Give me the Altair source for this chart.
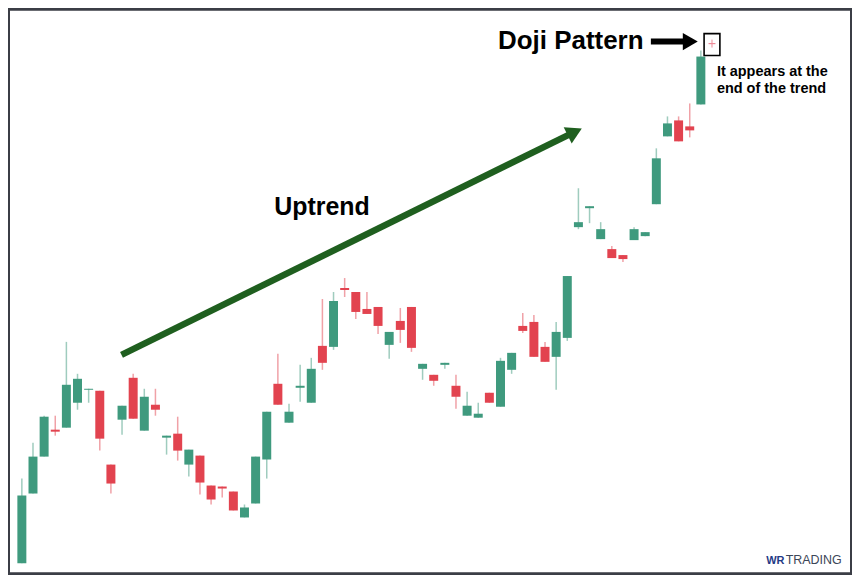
import altair as alt
import pandas as pd

# Candlestick values (price units)
opens = [16, 86, 123, 150, 152, 177, 190, 189, 115, 160, 202, 149, 175, 142, 146, 115,
         124, 94, 93, 88, 62, 76, 120, 196, 157, 192, 177, 234, 233, 292, 288, 271,
         273, 235, 259, 273, 211, 205, 215, 194, 164, 162, 187, 173, 210, 254, 258, 233,
         223, 242, 353, 372, 341, 331, 325, 340, 344, 376, 444, 460, 454, 476, 537]
highs = [101, 137, 164, 164, 238, 206, 191, 189, 115, 174, 206, 191, 191, 144, 163, 130,
         124, 94, 93, 88, 75, 123, 168, 226, 176, 215, 222, 281, 288, 302, 288, 288,
         273, 248, 272, 273, 216, 205, 217, 205, 188, 177, 187, 222, 227, 267, 265, 238,
         258, 304, 392, 374, 358, 334, 325, 353, 348, 432, 464, 464, 477, 530, 541]
lows = [16, 86, 123, 144, 152, 170, 177, 129, 86, 145, 161, 149, 164, 125, 119, 103,
        85, 75, 82, 69, 62, 76, 101, 175, 157, 178, 177, 210, 230, 283, 261, 266,
        246, 221, 237, 228, 200, 194, 211, 171, 164, 162, 177, 173, 206, 247, 223, 218,
        190, 239, 351, 357, 341, 322, 318, 340, 344, 376, 444, 439, 443, 476, 533]
closes = [84, 123, 163, 148, 195, 201, 191, 141, 96, 174, 161, 183, 170, 144, 129, 130,
          97, 80, 91, 69, 72, 123, 168, 175, 168, 194, 211, 217, 279, 290, 268, 266,
          254, 248, 250, 232, 216, 199, 217, 183, 174, 166, 177, 219, 227, 249, 223, 218,
          248, 304, 358, 374, 351, 322, 321, 351, 348, 422, 457, 439, 450, 524, 537]

DOJI = 62  # the highlighted doji candle

df = pd.DataFrame({"i": list(range(len(opens))), "open": opens, "high": highs,
                   "low": lows, "close": closes})
df["dir"] = ["up" if c >= o else "down" for o, c in zip(opens, closes)]
main = df[df.i != DOJI]
doji = df[df.i == DOJI]

W, H = 846, 567
xs = alt.Scale(domain=[-0.797, 74.13], nice=False, zero=False)
ys = alt.Scale(domain=[5, 572], nice=False, zero=False)
color = alt.Color("dir:N", scale=alt.Scale(domain=["up", "down"],
                                           range=["#3f9a7e", "#e2434f"]), legend=None)
X = alt.X("i:Q", scale=xs, axis=None)

base = alt.Chart(main)
wicks = base.mark_rule(strokeWidth=1.5, opacity=0.5).encode(
    X, y=alt.Y("low:Q", scale=ys, axis=None), y2="high:Q", color=color)
bodies = base.mark_bar(size=9).encode(
    X, y=alt.Y("open:Q", scale=ys, axis=None), y2="close:Q", color=color)

dbase = alt.Chart(doji)
doji_v = dbase.mark_rule(strokeWidth=1, color="#ee8a98").encode(
    X, y=alt.Y("low:Q", scale=ys, axis=None), y2="high:Q")
doji_h = dbase.transform_calculate(xa="datum.i - 0.31", xb="datum.i + 0.31").mark_rule(
    strokeWidth=1.2, color="#ee8a98").encode(
    x=alt.X("xa:Q", scale=xs, axis=None), x2="xb:Q", y=alt.Y("open:Q", scale=ys, axis=None))

# Doji box
box_df = pd.DataFrame({"x": [61.29], "x2": [62.71], "y": [547], "y2": [525]})
box = alt.Chart(box_df).mark_rect(fill=None, stroke="black", strokeWidth=1.6).encode(
    x=alt.X("x:Q", scale=xs, axis=None), x2="x2:Q",
    y=alt.Y("y:Q", scale=ys, axis=None), y2="y2:Q")

# Uptrend arrow
up_df = pd.DataFrame({"x": [8.95], "y": [225], "x2": [49.67], "y2": [448.5]})
up_line = alt.Chart(up_df).mark_rule(strokeWidth=6.5, color="#1f5f1f", strokeCap="butt").encode(
    x=alt.X("x:Q", scale=xs, axis=None), x2="x2:Q",
    y=alt.Y("y:Q", scale=ys, axis=None), y2="y2:Q")
up_head = alt.Chart(up_df).mark_point(shape="triangle-right", size=330, filled=True,
                                      opacity=1, color="#1f5f1f", angle=334).encode(
    x=alt.X("x2:Q", scale=xs, axis=None), y=alt.Y("y2:Q", scale=ys, axis=None))

# Black arrow pointing to the doji
blk_df = pd.DataFrame({"x": [56.51], "x2": [60.05], "y": [539]})
blk_line = alt.Chart(blk_df).mark_rule(strokeWidth=6, color="black", strokeCap="butt").encode(
    x=alt.X("x:Q", scale=xs, axis=None), x2="x2:Q", y=alt.Y("y:Q", scale=ys, axis=None))
blk_head = alt.Chart(blk_df).mark_point(shape="triangle-right", size=300, filled=True,
                                        opacity=1, color="black").encode(
    x=alt.X("x2:Q", scale=xs, axis=None), y=alt.Y("y:Q", scale=ys, axis=None))

def label(txt, x, y, size, weight="bold", col="#111111", font="Liberation Sans", **kw):
    d = pd.DataFrame({"x": [x], "y": [y], "t": [txt]})
    return alt.Chart(d).mark_text(align="left", baseline="alphabetic", font=font,
                                  fontSize=size, fontWeight=weight, color=col, **kw).encode(
        x=alt.X("x:Q", scale=xs, axis=None), y=alt.Y("y:Q", scale=ys, axis=None), text="t:N")

t_doji = label("Doji Pattern", 42.78, 532, 26, col="#000000")
t_up = label("Uptrend", 22.67, 365, 25, col="#000000")
t_note = label("It appears at the\nend of the trend", 62.44, 505, 14.5, col="#000000",
               lineBreak="\n", lineHeight=18)
t_wr = label("WR", 66.87, 15, 11, col="#1f3a86")
t_tr = label("TRADING", 68.62, 15, 12.5, weight="normal", col="#3c4658")

chart = alt.layer(wicks, bodies, doji_v, doji_h, box, up_line, up_head, blk_line, blk_head,
                  t_doji, t_up, t_note, t_wr, t_tr).properties(
    width=W, height=H, padding=0, autosize=alt.AutoSizeParams(type="none"),
    background="white"
).configure_view(stroke="#3b3e46", strokeWidth=4)

chart.save("out.html", embed_options={"renderer": "svg", "actions": False})
